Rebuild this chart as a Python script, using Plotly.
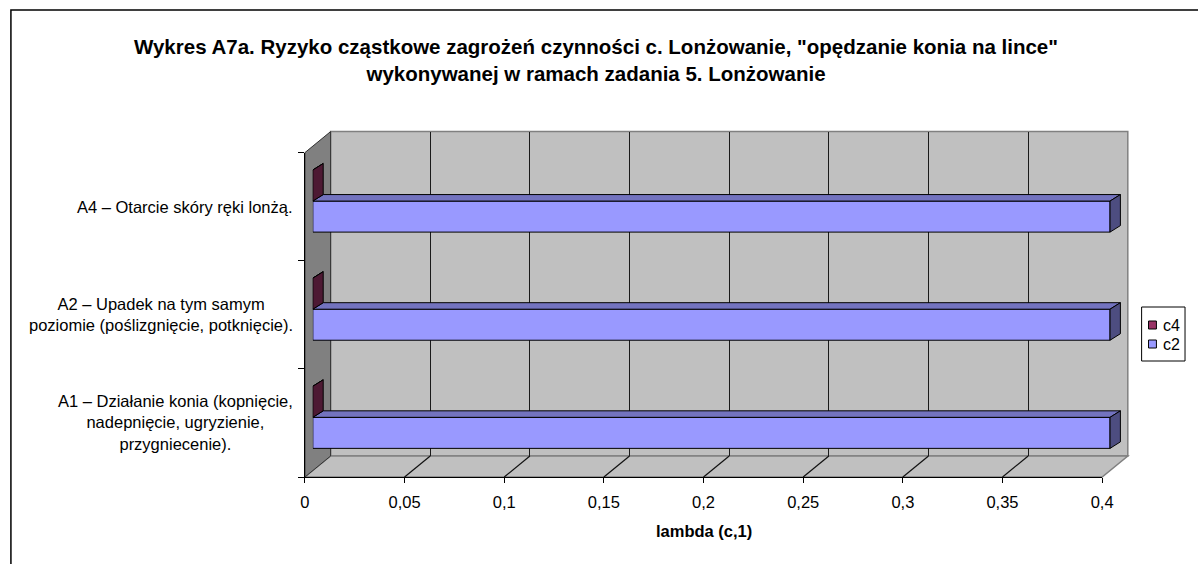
import plotly.graph_objects as go

# ---------------- data ----------------
categories = [
    "A1 – Działanie konia (kopnięcie,<br>nadepnięcie, ugryzienie,<br>przygniecenie).",
    "A2 – Upadek na tym samym<br>poziomie (poślizgnięcie, potknięcie).",
    "A4 – Otarcie skóry ręki lonżą.",
]
series_names = ["c2", "c4"]
c2_values = [0.4, 0.4, 0.4]
c4_values = [0.0, 0.0, 0.0]
x_tick_values = [0, 0.05, 0.1, 0.15, 0.2, 0.25, 0.3, 0.35, 0.4]
title_lines = [
    'Wykres A7a. Ryzyko cząstkowe zagrożeń czynności c. Lonżowanie, "opędzanie konia na lince"',
    "wykonywanej w ramach zadania 5. Lonżowanie",
]
x_title = "lambda (c,1)"

# ---------------- styling / geometry ----------------
W, H = 1198, 564
FONT = "Liberation Sans, Arial, sans-serif"
front_col = {"c2": "#9999FF", "c4": "#993366"}
top_col = {"c2": "#7373BF", "c4": "#73264D"}
cap_col = {"c2": "#4D4D80", "c4": "#4D1933"}

FRONT_X = (304, 1112)
FRONT_Y = (152.6, 477)
WALL_D = (26, -21)          # depth of the 3-D box (px)
BAR_SHIFT = (8, -5.6)       # front face of bars vs front plane
BAR_D = (10.5, -6.5)        # depth of the bars
BAR_W = 0.287               # bar thickness in category units
PAD = 24                    # extra room (px) so the 3-D faces are not clipped
XMAX = x_tick_values[-1]
YR = (-0.5, len(categories) - 0.5)


def fx(px):
    return px / W


def fy(py):
    return 1 - py / H


BACK_X = (FRONT_X[0] + WALL_D[0], FRONT_X[1] + WALL_D[0])
BACK_Y = (FRONT_Y[0] + WALL_D[1], FRONT_Y[1] + WALL_D[1])
BAR_X = (FRONT_X[0] + BAR_SHIFT[0], FRONT_X[1] + BAR_SHIFT[0])
BAR_Y = (FRONT_Y[0] + BAR_SHIFT[1], FRONT_Y[1] + BAR_SHIFT[1])

ypos = list(range(len(categories)))

# data units per pixel on the bar axes
kx = XMAX / (BAR_X[1] - BAR_X[0])
ky = (YR[1] - YR[0]) / (BAR_Y[1] - BAR_Y[0])
ddx = BAR_D[0] * kx
ddy = -BAR_D[1] * ky

fig = go.Figure()

# empty traces so that the wall / front subplots exist
fig.add_trace(go.Scatter(x=[], y=[], xaxis="x", yaxis="y", showlegend=False, hoverinfo="skip"))
fig.add_trace(go.Scatter(x=[], y=[], xaxis="x2", yaxis="y2", showlegend=False, hoverinfo="skip"))

series_values = {"c2": c2_values, "c4": c4_values}
offsets = {"c2": -BAR_W, "c4": 0.0}
for name in series_names:
    fig.add_trace(go.Bar(
        name=name, x=series_values[name], y=ypos, orientation="h",
        width=BAR_W, offset=offsets[name],
        marker=dict(color=front_col[name], line=dict(color="black", width=1)),
        xaxis="x3", yaxis="y3", showlegend=False,
    ))

shapes = []
# back wall
shapes.append(dict(type="rect", xref="paper", yref="paper", layer="below",
                   x0=fx(BACK_X[0]), x1=fx(BACK_X[1]), y0=fy(BACK_Y[0]), y1=fy(BACK_Y[1]),
                   fillcolor="#C0C0C0", line=dict(color="#808080", width=1.5)))
# floor
floor = "M {},{} L {},{} L {},{} L {},{} Z".format(
    fx(FRONT_X[0]), fy(FRONT_Y[1]), fx(FRONT_X[1]), fy(FRONT_Y[1]),
    fx(BACK_X[1]), fy(BACK_Y[1]), fx(BACK_X[0]), fy(BACK_Y[1]))
shapes.append(dict(type="path", xref="paper", yref="paper", layer="below", path=floor,
                   fillcolor="#C0C0C0", line=dict(color="#808080", width=1.5)))
# floor grid diagonals
for v in x_tick_values[1:-1]:
    xf = FRONT_X[0] + (FRONT_X[1] - FRONT_X[0]) * v / XMAX
    xb = BACK_X[0] + (BACK_X[1] - BACK_X[0]) * v / XMAX
    shapes.append(dict(type="line", xref="paper", yref="paper", layer="below",
                       x0=fx(xf), y0=fy(FRONT_Y[1]), x1=fx(xb), y1=fy(BACK_Y[1]),
                       line=dict(color="#111111", width=1.2)))
# side wall
side = "M {},{} L {},{} L {},{} L {},{} Z".format(
    fx(FRONT_X[0]), fy(FRONT_Y[0]), fx(BACK_X[0]), fy(BACK_Y[0]),
    fx(BACK_X[0]), fy(BACK_Y[1]), fx(FRONT_X[0]), fy(FRONT_Y[1]))
shapes.append(dict(type="path", xref="paper", yref="paper", layer="below", path=side,
                   fillcolor="#808080", line=dict(color="#333333", width=1)))

# 3-D faces of the bars, in data units of the bar axes
for name in series_names:
    for v, yc in zip(series_values[name], ypos):
        y0 = yc + offsets[name]
        y1 = y0 + BAR_W
        top = "M {},{} L {},{} L {},{} L {},{} Z".format(0, y1, v, y1, v + ddx, y1 + ddy, ddx, y1 + ddy)
        cap = "M {},{} L {},{} L {},{} L {},{} Z".format(v, y0, v, y1, v + ddx, y1 + ddy, v + ddx, y0 + ddy)
        shapes.append(dict(type="path", xref="x3", yref="y3", layer="above", path=top,
                           fillcolor=top_col[name], line=dict(color="black", width=1)))
        shapes.append(dict(type="path", xref="x3", yref="y3", layer="above", path=cap,
                           fillcolor=cap_col[name], line=dict(color="black", width=1)))

# chart border
shapes.append(dict(type="rect", xref="paper", yref="paper", layer="above",
                   x0=fx(6), y0=fy(10), x1=fx(1260), y1=fy(620),
                   line=dict(color="black", width=1.5), fillcolor="rgba(0,0,0,0)"))

# custom legend (series in reverse order, like the original)
LEG = dict(x0=1152, y0=307, x1=1196, y1=361, row0=325, row_step=19)
shapes.append(dict(type="rect", xref="paper", yref="paper", layer="above",
                   x0=fx(LEG["x0"]), y0=fy(LEG["y0"]), x1=fx(LEG["x1"]), y1=fy(LEG["y1"]),
                   fillcolor="white", line=dict(color="black", width=1)))
annotations = []
for k, name in enumerate(reversed(series_names)):
    yc = LEG["row0"] + k * LEG["row_step"]
    shapes.append(dict(type="rect", xref="paper", yref="paper", layer="above",
                       x0=fx(1159), x1=fx(1167), y0=fy(yc - 4), y1=fy(yc + 4),
                       fillcolor=front_col[name], line=dict(color="black", width=1)))
    annotations.append(dict(xref="paper", yref="paper", x=fx(1172), y=fy(yc), text=name,
                            showarrow=False, xanchor="left", yanchor="middle",
                            font=dict(family=FONT, size=16, color="black")))

# category labels
for cat, yc in zip(categories, ypos):
    annotations.append(dict(xref="paper", yref="y2", x=fx(294), y=yc, text=cat,
                            showarrow=False, xanchor="right", yanchor="middle", align="center",
                            font=dict(family=FONT, size=16.5, color="black")))
# x axis title
annotations.append(dict(xref="paper", yref="paper", x=fx((FRONT_X[0] + FRONT_X[1]) / 2), y=fy(531),
                        text="<b>" + x_title + "</b>", showarrow=False,
                        xanchor="center", yanchor="middle",
                        font=dict(family=FONT, size=16.5, color="black")))

fig.update_layout(
    width=W, height=H, margin=dict(l=0, r=0, t=0, b=0),
    paper_bgcolor="white", plot_bgcolor="rgba(0,0,0,0)",
    separators=",.", showlegend=False, barmode="overlay",
    font=dict(family=FONT, size=16.5, color="black"),
    title=dict(text="<b>" + "<br>".join(title_lines) + "</b>", x=0.5, xanchor="center",
               y=fy(54), yanchor="middle", xref="paper", yref="paper",
               font=dict(family=FONT, size=20.5, color="black")),
    # back wall (grid)
    xaxis=dict(domain=[fx(BACK_X[0]), fx(BACK_X[1])], range=[0, XMAX], anchor="y",
               tickvals=x_tick_values[1:-1], showticklabels=False, ticks="",
               showgrid=True, gridcolor="#1a1a1a", gridwidth=1.3, zeroline=False, showline=False,
               fixedrange=True),
    yaxis=dict(domain=[fy(BACK_Y[1]), fy(BACK_Y[0])], range=list(YR), anchor="x",
               showgrid=False, showticklabels=False, ticks="", zeroline=False, showline=False,
               fixedrange=True),
    # front plane (axes, ticks, labels)
    xaxis2=dict(domain=[fx(FRONT_X[0]), fx(FRONT_X[1])], range=[0, XMAX], anchor="y2",
                tickvals=x_tick_values, ticks="outside", ticklen=5, tickcolor="black",
                showline=True, linecolor="black", linewidth=1.2, showgrid=False, zeroline=False,
                tickfont=dict(family=FONT, size=16.5, color="black"), ticklabelstandoff=5,
                fixedrange=True),
    yaxis2=dict(domain=[fy(FRONT_Y[1]), fy(FRONT_Y[0])], range=list(YR), anchor="x2",
                tickvals=[p - 0.5 for p in ypos] + [ypos[-1] + 0.5], showticklabels=False,
                ticks="outside", ticklen=6, tickcolor="black",
                showline=True, linecolor="black", linewidth=1.2, showgrid=False, zeroline=False,
                fixedrange=True),
    # bars (range padded so the end caps are not clipped)
    xaxis3=dict(domain=[fx(BAR_X[0]), fx(BAR_X[1] + PAD)], range=[0, XMAX + PAD * kx], anchor="y3",
                visible=False, fixedrange=True),
    yaxis3=dict(domain=[fy(BAR_Y[1]), fy(BAR_Y[0])], range=list(YR), anchor="x3",
                visible=False, fixedrange=True),
    shapes=shapes,
    annotations=annotations,
)

fig.write_html("out.html", config={"displayModeBar": False},
               post_script="document.body.style.margin='0';document.body.style.overflow='hidden';")
